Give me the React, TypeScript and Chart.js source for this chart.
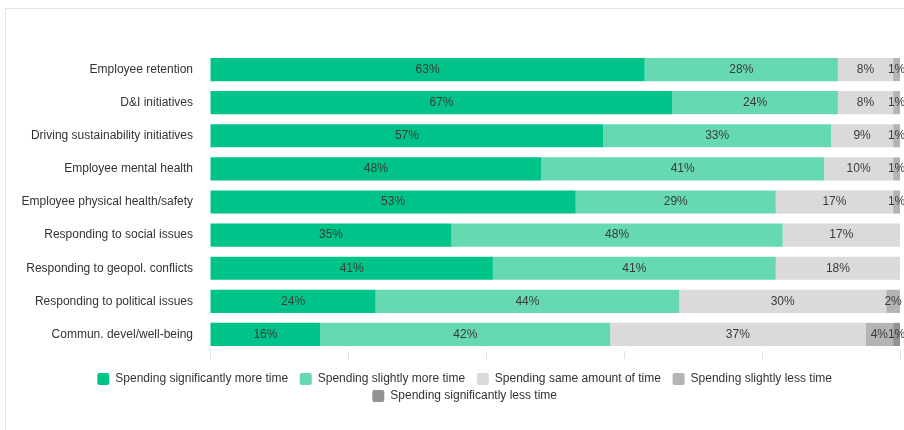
import React, { useEffect, useRef } from "react";
import { Chart, registerables } from "chart.js";

Chart.register(...registerables);

const categories = [
  "Employee retention",
  "D&I initiatives",
  "Driving sustainability initiatives",
  "Employee mental health",
  "Employee physical health/safety",
  "Responding to social issues",
  "Responding to geopol. conflicts",
  "Responding to political issues",
  "Commun. devel/well-being",
];

const seriesNames = [
  "Spending significantly more time",
  "Spending slightly more time",
  "Spending same amount of time",
  "Spending slightly less time",
  "Spending significantly less time",
];

const sigMore = [63, 67, 57, 48, 53, 35, 41, 24, 16];
const slightMore = [28, 24, 33, 41, 29, 48, 41, 44, 42];
const same = [8, 8, 9, 10, 17, 17, 18, 30, 37];
const slightLess = [1, 1, 1, 1, 1, 0, 0, 2, 4];
const sigLess = [0, 0, 0, 0, 0, 0, 0, 0, 1];

const xTicks = [0, 20, 40, 60, 80, 100];

const colors = ["#00c389", "#66d8b2", "#dadada", "#b4b4b4", "#929292"];

const FONT = "'Liberation Sans', Arial, Helvetica, sans-serif";

const labelPlugin = {
  id: "barLabels",
  afterDatasetsDraw(chart: any) {
    const ctx = chart.ctx;
    ctx.save();
    ctx.font = `12px ${FONT}`;
    ctx.fillStyle = "#3a3a3a";
    ctx.textAlign = "center";
    ctx.textBaseline = "middle";
    chart.data.datasets.forEach((ds: any, di: number) => {
      const meta = chart.getDatasetMeta(di);
      if (meta.hidden) return;
      meta.data.forEach((el: any, i: number) => {
        const v = ds.data[i];
        if (!v) return;
        const x = (el.x + el.base) / 2;
        ctx.fillText(v + "%", x, el.y);
      });
    });
    ctx.restore();
  },
};

const legendShift = {
  id: "legendShift",
  afterLayout(chart: any) {
    if (chart.legend) {
      chart.legend.left += 18;
      chart.legend.right += 18;
    }
  },
};

export default function App() {
  const ref = useRef<HTMLCanvasElement | null>(null);

  useEffect(() => {
    if (!ref.current) return;
    const data = [sigMore, slightMore, same, slightLess, sigLess];
    const chart = new Chart(ref.current, {
      type: "bar",
      data: {
        labels: categories,
        datasets: seriesNames.map((name, i) => ({
          label: name,
          data: data[i],
          backgroundColor: colors[i],
          borderWidth: 0,
          barPercentage: 0.7,
          categoryPercentage: 1,
        })),
      },
      options: {
        indexAxis: "y",
        animation: false,
        responsive: false,
        maintainAspectRatio: false,
        layout: { padding: { top: 53, right: 4, bottom: 18, left: 0 } },
        scales: {
          x: {
            stacked: true,
            min: 0,
            max: 100,
            afterBuildTicks: (s: any) => {
              s.ticks = xTicks.map((v) => ({ value: v }));
            },
            afterFit: (s: any) => {
              s.height += 9;
            },
            ticks: { display: false },
            grid: {
              drawOnChartArea: false,
              drawTicks: true,
              tickLength: 8,
              color: "#e0e0e0",
            },
            border: { display: false },
          },
          y: {
            stacked: true,
            afterFit: (s: any) => {
              s.width = 210;
            },
            grid: { display: false },
            border: { display: false },
            ticks: {
              padding: 9,
              color: "#333",
              font: { size: 12, family: FONT },
            },
          },
        },
        plugins: {
          legend: {
            position: "bottom",
            labels: {
              boxWidth: 12,
              boxHeight: 12,
              useBorderRadius: true,
              borderRadius: 2,
              color: "#333",
              padding: 5,
              font: { size: 12, family: FONT },
              generateLabels: (c: any) => {
                const items = Chart.defaults.plugins.legend.labels.generateLabels(c);
                return items.map((it: any) => ({ ...it, text: it.text + "  " }));
              },
            },
          },
          tooltip: { enabled: false },
        },
      },
      plugins: [labelPlugin, legendShift],
    } as any);
    return () => chart.destroy();
  }, []);

  return (
    <div style={{ position: "fixed", left: 0, top: 0, width: 904, height: 430, background: "#fff", overflow: "hidden" }}>
      <div
        style={{
          position: "absolute",
          left: 5,
          top: 8,
          width: 920,
          height: 440,
          borderLeft: "1px solid #e3e3e3",
          borderTop: "1px solid #e3e3e3",
        }}
      />
      <canvas ref={ref} width={904} height={430} style={{ position: "absolute", left: 0, top: 0 }} />
    </div>
  );
}
